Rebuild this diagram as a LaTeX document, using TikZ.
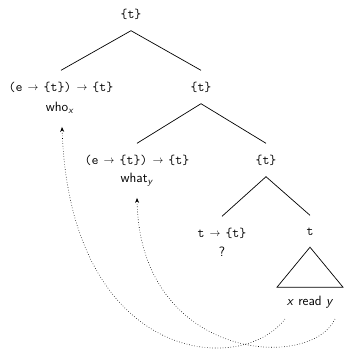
\documentclass[tikz,border=0pt]{standalone}
\usepackage{fontspec}
\usetikzlibrary{arrows.meta}
\newcommand\tto{\makebox[0.525em]{\raisebox{0.05em}{\scalebox{0.75}{$\rightarrow$}}}}
\tikzset{
  typ/.style={font=\fontsize{13.5}{16}\selectfont\ttfamily, minimum height=33pt, inner sep=0pt},
  lex/.style={font=\fontsize{13.5}{16}\selectfont\sffamily, inner sep=1pt},
  edge/.style={line width=0.7pt},
  mv/.style={dotted, line width=0.6pt, -{Stealth[length=5pt,width=4pt]}}
}
\begin{document}
\begin{tikzpicture}[x=1pt,y=-1pt]
\useasboundingbox (0,0) rectangle (343,351);
\node[typ] (root) at (131,14) {\{t\}};
\node[typ] (L1) at (61,87) {(e \tto{} \{t\}) \tto{} \{t\}};
\node[lex] (who) at (60,108) {who\textsubscript{\textit{x}}};
\node[typ] (R1) at (201,87) {\{t\}};
\node[typ] (L2) at (137,160) {(e \tto{} \{t\}) \tto{} \{t\}};
\node[lex] (what) at (137,180) {what\textsubscript{\textit{y}}};
\node[typ] (R2) at (266,160) {\{t\}};
\node[typ] (L3) at (222,233) {t \tto{} \{t\}};
\node[lex] (q) at (222,252) {?};
\node[typ] (R3) at (310,232) {t};
\node[lex] (xry) at (310,302) {\textit{x} read \textit{y}};
\coordinate (xs) at (285,319);
\coordinate (ys) at (335,319);
\draw[edge] (L1.north) -- (root.south) -- (R1.north);
\draw[edge] (L2.north) -- (R1.south) -- (R2.north);
\draw[edge] (L3.north) -- (R2.south) -- (R3.north);
\draw[edge] ([yshift=1.5pt]R3.south) -- ++(-33,40) -- ++(66,0) -- cycle;
\draw[mv] (xs) .. controls (240,378) and (70,362) .. ([xshift=2pt,yshift=-12pt]who.south);
\draw[mv] (ys) .. controls (310,372) and (140,360) .. ([yshift=-10pt]what.south);
\end{tikzpicture}
\end{document}
